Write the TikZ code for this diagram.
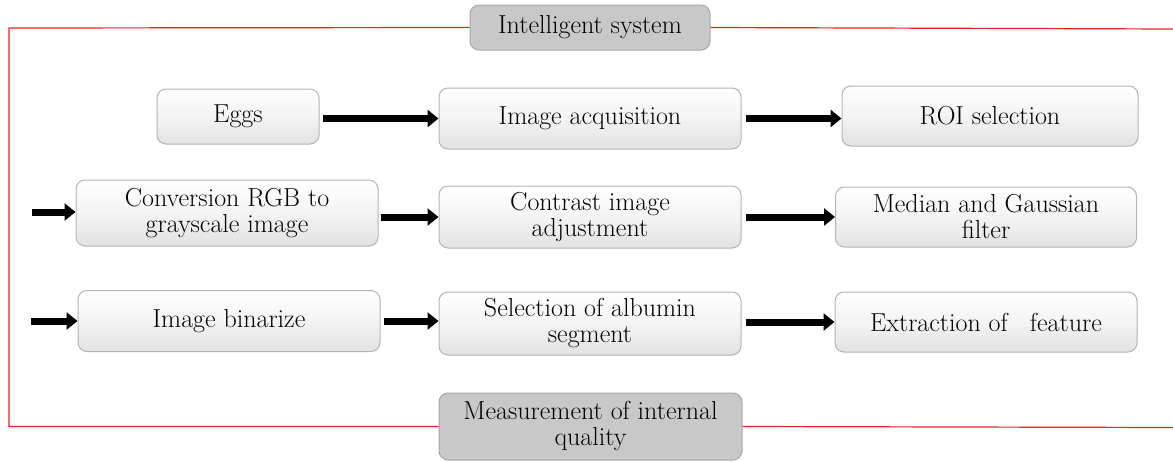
\documentclass[tikz,border=0pt]{standalone}
\usetikzlibrary{arrows.meta}
\definecolor{boxedge}{HTML}{B4B4B4}
\definecolor{boxbot}{HTML}{E2E2E2}
\definecolor{graybg}{HTML}{C8C8C8}
\definecolor{grayedge}{HTML}{A6A6A6}
\definecolor{frame}{HTML}{F02020}
\begin{document}
\begin{tikzpicture}[x=1pt,y=-1pt,
  txt/.style={align=center, font=\rmfamily\fontsize{26}{26}\selectfont, inner sep=0pt, rounded corners=9pt, line width=1pt},
  box/.style={txt, draw=boxedge, top color=white, bottom color=boxbot, middle color=white!60!boxbot},
  graybox/.style={txt, draw=grayedge, fill=graybg},
  flow/.style={line width=7pt, -{Triangle[length=11pt,width=17pt]}, black},
  redline/.style={draw=frame, line width=1.2pt}
]
\useasboundingbox (0,0) rectangle (1173,461);
% nodes
\node[graybox, minimum width=240pt, minimum height=45pt] (intel) at (590,27.5) {Intelligent system};
\node[box, minimum width=162pt, minimum height=55pt] (eggs) at (238,116.5) {Eggs};
\node[box, minimum width=302pt, minimum height=61pt] (acq) at (590,118.5) {Image acquisition};
\node[box, minimum width=296pt, minimum height=60pt] (roi) at (990,116) {ROI selection};
\node[box, minimum width=302pt, minimum height=66pt] (conv) at (227,213) {Conversion RGB to\\grayscale image};
\node[box, minimum width=302pt, minimum height=62pt] (contrast) at (590,217) {Contrast image\\adjustment};
\node[box, minimum width=301pt, minimum height=60pt] (median) at (986,217) {Median and Gaussian\\filter};
\node[box, minimum width=302pt, minimum height=61pt] (binar) at (229,321) {Image binarize};
\node[box, minimum width=302pt, minimum height=63pt] (album) at (590,323.5) {Selection of albumin\\segment};
\node[box, minimum width=302pt, minimum height=60pt] (extr) at (986,322) {Extraction of\hspace{0.55em} feature};
\node[graybox, minimum width=303pt, minimum height=67pt] (meas) at (590.5,426.5) {Measurement of internal\\quality};
% frame
\coordinate (tl) at (9,28);
\coordinate (bl) at (9,426.5);
\coordinate (tr) at (1173,29);
\coordinate (br) at (1173,427.5);
\draw[redline] (intel.west) -- (tl) -- (bl) -- (meas.west);
\draw[redline] (intel.east) -- (tr);
\draw[redline] (meas.east) -- (br);
% entry arrows
\coordinate (in2) at (32,212);
\coordinate (in3) at (31,321);
\draw[flow] (in2) -- (in2 -| conv.west);
\draw[flow] (in3) -- (in3 -| binar.west);
% flow arrows
\draw[flow] ([xshift=3pt]eggs.east |- acq) -- (acq.west);
\draw[flow] ([xshift=4pt]acq.east) -- (acq.east -| roi.west);
\draw[flow] ([xshift=2pt]conv.east |- contrast) -- (contrast.west);
\draw[flow] ([xshift=4pt]contrast.east) -- (contrast.east -| median.west);
\draw[flow] ([xshift=3pt]binar.east) -- (binar.east -| album.west);
\draw[flow] ([xshift=4pt]album.east |- extr) -- (extr.west);
\end{tikzpicture}
\end{document}
